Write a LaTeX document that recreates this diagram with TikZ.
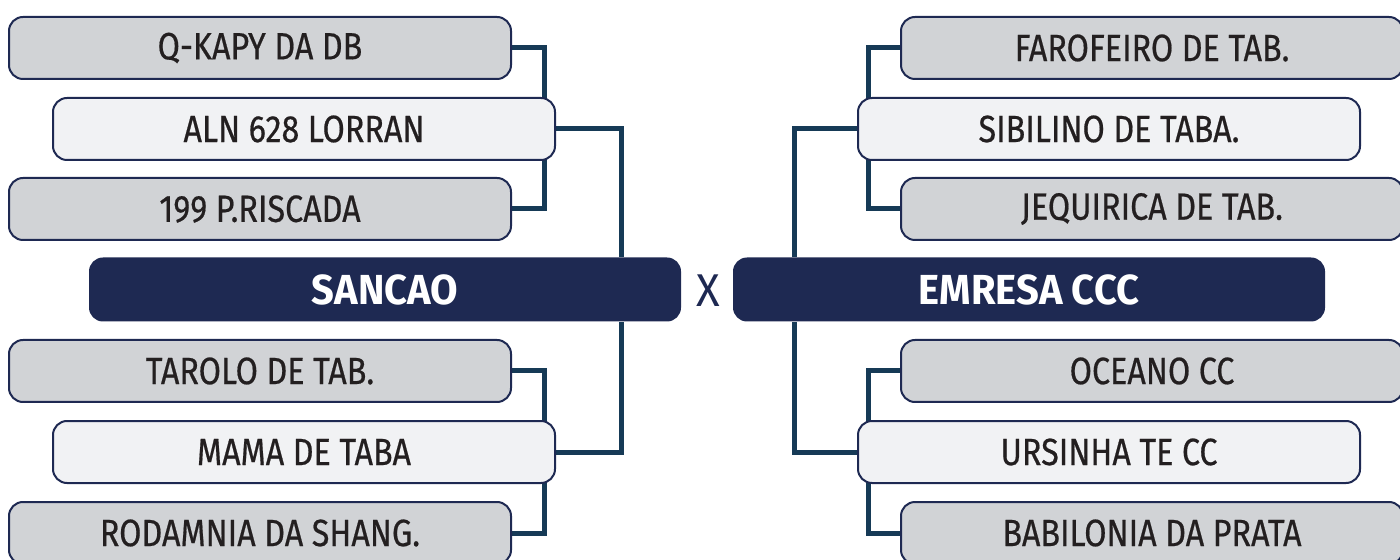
\documentclass[tikz,border=0pt]{standalone}
\usepackage{fontspec}
\setmainfont{Fira Sans}
\newfontfamily\playerfont[FakeStretch=0.85,FakeBold=0.5]{Fira Sans}
\newfontfamily\clubfont[FakeStretch=0.95]{Fira Sans}
\usepackage{tikz}
\usetikzlibrary{calc,backgrounds,positioning}

\definecolor{navy}{HTML}{1E2952}
\definecolor{linkblue}{HTML}{163A56}
\definecolor{boxgray}{HTML}{D1D3D6}
\definecolor{boxlight}{HTML}{F1F2F4}
\definecolor{ink}{HTML}{231F20}

\tikzset{
	player/.style={draw=navy, line width=1pt, rounded corners=7pt, minimum width=251pt, minimum height=31pt, text=ink, font=\playerfont\fontsize{19}{22}\selectfont, inner sep=0pt},
	grayplayer/.style={player, fill=boxgray},
	lightplayer/.style={player, fill=boxlight},
	club/.style={fill=navy, rounded corners=7pt, minimum width=296pt, minimum height=32pt, text=white, font=\clubfont\fontsize{21}{24}\selectfont\bfseries, inner sep=0pt},
	link/.style={draw=linkblue, line width=2.5pt}
}

\begin{document}
\begin{tikzpicture}[x=0.5pt,y=-0.5pt]
				\useasboundingbox (0,0) rectangle (1400,560);
				% Center
				\node[club] (Sancao) at (385,289.5) {SANCAO} ;
				\node[club] (Emresa) at (1029,289.5) {EMRESA CCC} ;
				\node[text=navy, font=\clubfont\fontsize{23}{26}\selectfont] (versus) at (708,291) {X} ;
				
				% Left
				\node[grayplayer] (Qkapy) at (260,48) {Q-KAPY DA DB} ;
				\node[lightplayer] (Lorran) at (304,129) {ALN 628 LORRAN} ;
				\node[grayplayer] (Riscada) at (260,209) {199 P.RISCADA} ;
				\node[grayplayer] (Tarolo) at (260,371) {TAROLO DE TAB.} ;
				\node[lightplayer] (Mama) at (304,452) {MAMA DE TABA} ;
				\node[grayplayer] (Rodamnia) at (260,533) {RODAMNIA DA SHANG.} ;
				
				% Right
				\node[grayplayer] (Farofeiro) at (1152,48) {FAROFEIRO DE TAB.} ;
				\node[lightplayer] (Sibilino) at (1109,129) {SIBILINO DE TABA.} ;
				\node[grayplayer] (Jequirica) at (1152,209) {JEQUIRICA DE TAB.} ;
				\node[grayplayer] (Oceano) at (1152,371) {OCEANO CC} ;
				\node[lightplayer] (Ursinha) at (1109,452) {URSINHA TE CC} ;
				\node[grayplayer] (Babilonia) at (1152,533) {BABILONIA DA PRATA} ;
				
				% Links
				\begin{scope}[on background layer]
				\draw[link] (Qkapy.east) -- ++(32,0) |- (Riscada.east) ;
				\draw[link] (Tarolo.east) -- ++(32,0) |- (Rodamnia.east) ;
				\draw[link] (Lorran.east) -| ($(Sancao.north east)+(-60,0)$) ;
				\draw[link] (Mama.east) -| ($(Sancao.south east)+(-60,0)$) ;
				\draw[link] (Farofeiro.west) -- ++(-32,0) |- (Jequirica.west) ;
				\draw[link] (Oceano.west) -- ++(-32,0) |- (Babilonia.west) ;
				\draw[link] (Sibilino.west) -| ($(Emresa.north west)+(62,0)$) ;
				\draw[link] (Ursinha.west) -| ($(Emresa.south west)+(62,0)$) ;
				\end{scope}
			\end{tikzpicture}
\end{document}
